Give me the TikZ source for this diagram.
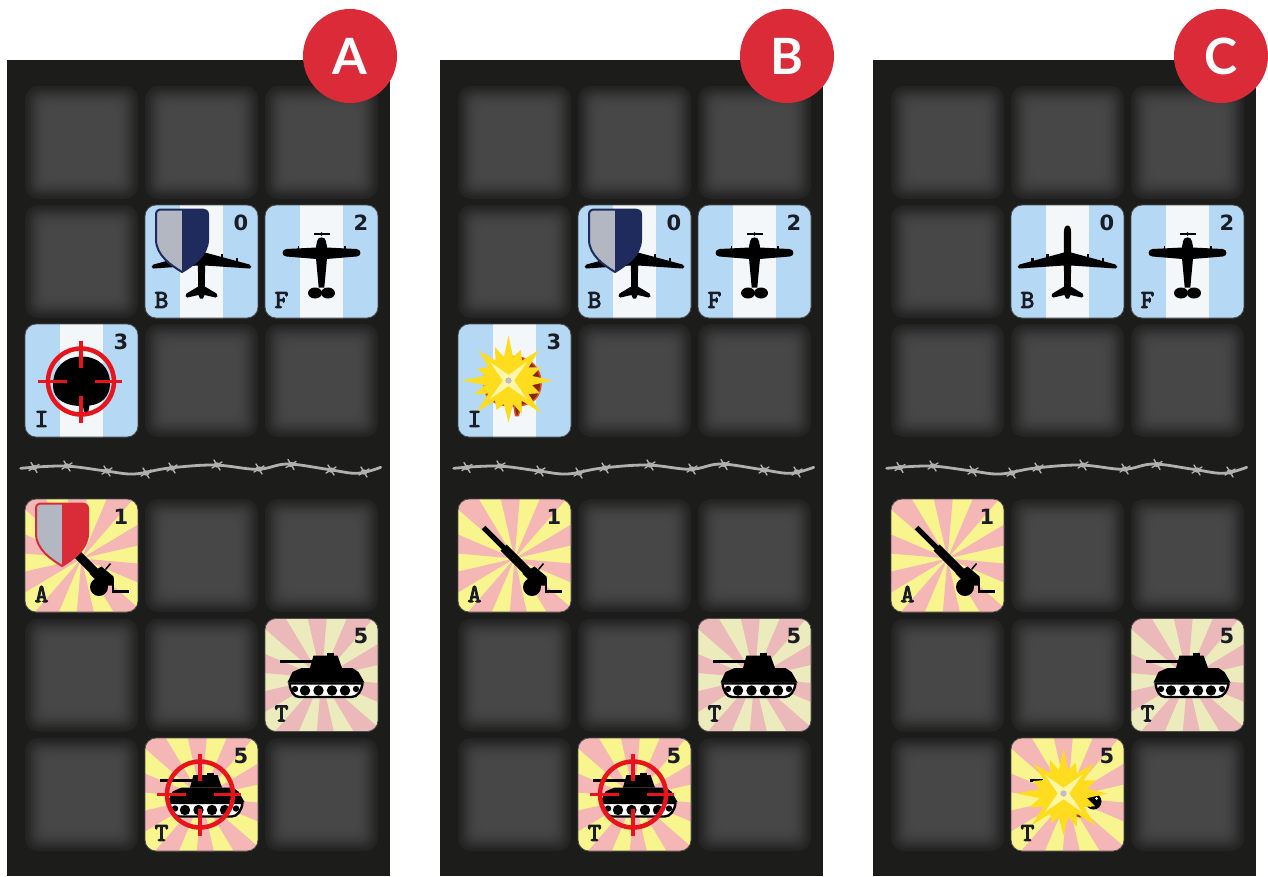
\documentclass[tikz,border=0pt]{standalone}
\usepackage{fontspec}
\setmainfont{Lato}
\newfontfamily\numfont{DejaVu Sans}
\newfontfamily\letfont{lmmono10-regular.otf}[FakeBold=3.5]

\definecolor{boardc}{HTML}{1C1C1B}
\definecolor{skyblue}{HTML}{B5D8F4}
\definecolor{skywhite}{HTML}{F4F7FA}
\definecolor{rayPink}{HTML}{F4B7B6}
\definecolor{rayYellow}{HTML}{F8F48E}
\definecolor{palePink}{HTML}{EBB9B9}
\definecolor{paleCream}{HTML}{EBEBBE}
\definecolor{inkc}{HTML}{1A1C26}
\definecolor{navyc}{HTML}{1F2B5C}
\definecolor{shieldgrey}{HTML}{B2B7C2}
\definecolor{shieldred}{HTML}{DA2C38}
\definecolor{aimred}{HTML}{E8141C}
\definecolor{labelred}{HTML}{DB2B39}
\definecolor{wirec}{HTML}{B0B0B0}
\definecolor{boomY}{HTML}{FFDD1E}
\definecolor{boomPale}{HTML}{FFF6A8}
\definecolor{burnt}{HTML}{8A2411}
\definecolor{burntedge}{HTML}{D8541A}

\tikzset{
  numtxt/.style={inner sep=0pt, text=inkc, font=\numfont\bfseries\fontsize{21}{21}\selectfont},
  lettxt/.style={inner sep=0pt, text=inkc, font=\letfont\fontsize{26}{26}\selectfont},
  labelc/.style={circle, fill=labelred, minimum size=94pt, inner sep=0pt, text=white,
    font=\bfseries\fontsize{50}{50}\selectfont},
  wireline/.style={wirec, line width=2.8pt, line cap=round},
  barb/.style={wirec, line width=1.4pt, line cap=round},
}

% ---------- card backgrounds ----------
\newcommand\cardclip{\clip[rounded corners=11pt] (-56.5,-56.5) rectangle (56.5,56.5);}
\newcommand\bluecard{%
  \begin{scope}\cardclip
    \fill[skyblue] (-57,-57) rectangle (57,57);
    \fill[skywhite] (-21.5,-57) rectangle (21.5,57);
  \end{scope}}
\newcommand\suncard[2]{%
  \begin{scope}\cardclip
    \fill[#2] (-57,-57) rectangle (57,57);
    \foreach \k in {0,...,9}{\fill[#1] (0,3) -- +({\k*36+5}:95) -- +({\k*36+23}:95) -- cycle;}
  \end{scope}}
\newcommand\cardrim{\draw[black!70, line width=0.8pt, rounded corners=11pt] (-56.5,-56.5) rectangle (56.5,56.5);}
\newcommand\cardtext[3]{%
  \node[numtxt] (#1n) at (39.5,-39) {#2};
  \node[lettxt] (#1l) at (-40,38.5) {#3};}

% ---------- icons ----------
\newcommand\jeticon{%
  \fill (0,-36) .. controls (2.5,-36) and (3.6,-33) .. (3.6,-29) -- (3.6,-9) -- (48,3)
    .. controls (50.5,3.8) and (50.5,7) .. (48,7) -- (3.6,4) -- (3.3,25) -- (15,32)
    .. controls (17,33.5) and (16,36.5) .. (14,36) -- (3,33.5) -- (1.5,37) -- (-1.5,37)
    -- (-3,33.5) -- (-14,36) .. controls (-16,36.5) and (-17,33.5) .. (-15,32) -- (-3.3,25)
    -- (-3.6,4) -- (-48,7) .. controls (-50.5,7) and (-50.5,3.8) .. (-48,3) -- (-3.6,-9)
    -- (-3.6,-29) .. controls (-3.6,-33) and (-2.5,-36) .. (0,-36) -- cycle;
  \fill (19,-8) rectangle (21.5,-3); \fill (-21.5,-8) rectangle (-19,-3);
  \fill (34,-4) rectangle (36.5,0.5); \fill (-36.5,-4) rectangle (-34,0.5);}

\newcommand\propicon{%
  \fill (-8,-28.5) rectangle (8,-26.5);
  \fill (0,-27.5) circle (1.8);
  \fill (-4.5,-20) .. controls (-4.5,-25.5) and (4.5,-25.5) .. (4.5,-20) -- (6,-12) -- (5.5,-3)
    -- (2.8,26) -- (-2.8,26) -- (-5.5,-3) -- (-6,-12) -- cycle;
  \fill (-5,-14) -- (-35,-12.5) .. controls (-40,-12.3) and (-40.5,-5.2) .. (-35,-5) -- (-5,-2.5)
    -- (5,-2.5) -- (35,-5) .. controls (40.5,-5.2) and (40,-12.3) .. (35,-12.5) -- (5,-14) -- cycle;
  \fill (-6.5,31.5) ellipse (7 and 5.5);
  \fill (6.5,31.5) ellipse (7 and 5.5);
  \fill (-24,-16) rectangle (-22.5,-12); \fill (22.5,-16) rectangle (24,-12);}

\newcommand\helmetpath[1]{%
  \path[#1] (-28.5,6) .. controls (-29,-14) and (-16,-24) .. (0,-24)
    .. controls (17,-24) and (29,-13) .. (28.5,4) .. controls (28,16) and (20,24) .. (8,25)
    -- (6,35) -- (3,35) -- (1.5,25.5) .. controls (-14,26) and (-28,20) .. (-28.5,6) -- cycle;}

\newcommand\shieldpath[1]{%
  \path[#1] (-45.5,-47) -- (-45.5,-22) .. controls (-45.5,-6) and (-30,4) .. (-19.5,10.5)
    .. controls (-9,4) and (6.5,-6) .. (6.5,-22) -- (6.5,-47) .. controls (6.5,-50.5) and (4,-52) .. (1,-52)
    -- (-40,-52) .. controls (-43.5,-52) and (-45.5,-50.5) .. (-45.5,-47) -- cycle;}
\newcommand\shieldicon[2]{%
  \begin{scope}
    \shieldpath{clip}
    \fill[shieldgrey] (-50,-55) rectangle (-19.5,15);
    \fill[#1] (-19.5,-55) rectangle (10,15);
  \end{scope}
  \shieldpath{draw=#2, line width=2pt, line join=round}}

\newcommand\tankicon{%
  \fill (-41.5,-15.5) rectangle (-9,-12.5);
  \fill (-11.5,-7) -- (-8,-19.5) -- (16,-19.5) -- (20.5,-7) -- cycle;
  \fill (5,-22) rectangle (12,-19);
  \fill (-34,7.5) -- (-29,-3) -- (-20,-7) -- (31,-7) -- (37,-3) -- (43,7.5) -- cycle;
  \filldraw[fill=white, line width=2.4pt, line join=round] (-32,8.5) -- (41,8.5)
    .. controls (40,16) and (36,22) .. (30,22) -- (-22,22) .. controls (-28,22) and (-31,16) .. (-32,8.5) -- cycle;
  \foreach \wx in {-16.5,-3,10.5,23.5}{\fill (\wx,15.5) circle (5.2);}
  \fill (-26.5,14) circle (3.2); \fill (34.5,14) circle (3.2);}

\newcommand\cannonicon{%
  \draw[line width=5pt] (-31,-28) -- (-7,-4);
  \draw[line width=8.5pt] (-11,-8) -- (16,19);
  \fill (8,18) -- (20,11) -- (32,21) -- (32,30) -- (20,30) -- cycle;
  \draw[line width=1.5pt] (24,14) -- (29,8);
  \fill (17.5,31.5) circle (9);
  \draw[line width=2.6pt] (31.5,22) -- (31.5,36) -- (47,36);}

\newcommand\aimicon{%
  \draw[aimred, line width=4.5pt] (0,0) circle (33);
  \draw[aimred, line width=3.5pt] (0,-41) -- (0,-14) (0,14) -- (0,41) (-43,0) -- (-14,0) (14,0) -- (41,0);}

\newcommand\boomicon{%
  \fill[boomY] (0:44) \foreach \a/\r in {22/34,45/46,68/36,90/42,112/32,135/45,158/37,180/47,
      202/33,225/42,248/36,270/45,292/33,315/43,338/35,360/44}{ -- ({\a-11}:24) -- (\a:\r)} -- cycle;
  \fill[boomPale, rotate=45] (0,-26) -- (4,-4) -- (26,0) -- (4,4) -- (0,26) -- (-4,4)
    -- (-26,0) -- (-4,-4) -- cycle;
  \fill[black!25] (0,0) circle (3.2);}

% ---------- an empty cell: rounded square that darkens smoothly towards its rim ----------
\newcommand\cellat[2]{%
  \foreach \d/\g/\r in {0/86/13,1.5/85/12.5,3/84/12,4.5/82.5/11.5,6/81/11,7.5/79.5/10.5,9/78.2/10,
      10.5/77/9.5,12/76/9,13.5/75/8.5,15/74.2/8,17/73.4/7.5,19/72.7/7,22/72/6.5}{
    \fill[black!\g, rounded corners=\r pt] (#1-56.5+\d,#2-56.5+\d) rectangle (#1+56.5-\d,#2+56.5-\d);}}

% ---------- one board with its empty cells and the wire ----------
\newcommand\boardat[1]{%
  \begin{scope}[shift={(#1,0)}]
    \fill[boardc] (7,60) rectangle (390,876);
    \foreach \cx in {81.5,201.5,321.5}{\foreach \cy in {142.5,261.5,380.5,555.5,675,794.5}{
      \cellat{\cx}{\cy}}}
    \draw[wireline] plot[smooth, tension=0.6] coordinates {(20.7,468.3) (64,466) (104,470.7) (134,474)
      (167.3,468.3) (214,465) (257.3,469.3) (287.3,464) (327.3,469.3) (357.3,473.3) (380.7,467.3)};
    \foreach \bx/\by in {34/467.5,67/466,107/471,146/473,172/468,217/465,259/469,291/464.5,331/470,364/472}{
      \draw[barb] (\bx-3,\by-5) -- (\bx+3,\by+5) (\bx-5,\by+3) -- (\bx+5,\by-3);
      \fill[wirec] (\bx,\by) ellipse (3.5 and 2.6);}
  \end{scope}}

\begin{document}
\begin{tikzpicture}[x=1pt,y=-1pt]
\useasboundingbox (0,0) rectangle (1268,876);
\fill[white] (0,0) rectangle (1268,876);

\boardat{0}
\boardat{433}
\boardat{866}

% ===== board A =====
\begin{scope}[shift={(201.5,261.5)}]
  \bluecard \jeticon \shieldicon{navyc}{navyc} \cardtext{aB}{0}{B} \cardrim
\end{scope}
\begin{scope}[shift={(321.5,261.5)}]
  \bluecard \propicon \cardtext{aF}{2}{F} \cardrim
\end{scope}
\begin{scope}[shift={(81.5,380.5)}]
  \bluecard \helmetpath{fill=black}
  \begin{scope}[shift={(-0.5,1)}]\aimicon\end{scope}
  \cardtext{aI}{3}{I} \cardrim
\end{scope}
\begin{scope}[shift={(81.5,555.5)}]
  \suncard{rayPink}{rayYellow} \cannonicon \shieldicon{shieldred}{shieldred} \cardtext{aA}{1}{A} \cardrim
\end{scope}
\begin{scope}[shift={(321.5,675)}]
  \suncard{palePink}{paleCream} \tankicon \cardtext{aT}{5}{T} \cardrim
\end{scope}
\begin{scope}[shift={(201.5,794.5)}]
  \suncard{rayPink}{rayYellow} \tankicon
  \begin{scope}[shift={(-1.5,0)}]\aimicon\end{scope}
  \cardtext{aX}{5}{T} \cardrim
\end{scope}
\node[labelc] (labA) at (350,56) {A};

% ===== board B =====
\begin{scope}[shift={(634.5,261.5)}]
  \bluecard \jeticon \shieldicon{navyc}{navyc} \cardtext{bB}{0}{B} \cardrim
\end{scope}
\begin{scope}[shift={(754.5,261.5)}]
  \bluecard \propicon \cardtext{bF}{2}{F} \cardrim
\end{scope}
\begin{scope}[shift={(514.5,380.5)}]
  \bluecard
  \begin{scope}[shift={(-2,0)}]\helmetpath{fill=burnt, draw=burntedge, line width=1.5pt}\end{scope}
  \begin{scope}[shift={(-6,0)}]\boomicon\end{scope}
  \cardtext{bI}{3}{I} \cardrim
\end{scope}
\begin{scope}[shift={(514.5,555.5)}]
  \suncard{rayPink}{rayYellow} \cannonicon \cardtext{bA}{1}{A} \cardrim
\end{scope}
\begin{scope}[shift={(754.5,675)}]
  \suncard{palePink}{paleCream} \tankicon \cardtext{bT}{5}{T} \cardrim
\end{scope}
\begin{scope}[shift={(634.5,794.5)}]
  \suncard{rayPink}{rayYellow} \tankicon
  \begin{scope}[shift={(-1.5,0)}]\aimicon\end{scope}
  \cardtext{bX}{5}{T} \cardrim
\end{scope}
\node[labelc] (labB) at (787,56) {B};

% ===== board C =====
\begin{scope}[shift={(1067.5,261.5)}]
  \bluecard \jeticon \cardtext{cB}{0}{B} \cardrim
\end{scope}
\begin{scope}[shift={(1187.5,261.5)}]
  \bluecard \propicon \cardtext{cF}{2}{F} \cardrim
\end{scope}
\begin{scope}[shift={(947.5,555.5)}]
  \suncard{rayPink}{rayYellow} \cannonicon \cardtext{cA}{1}{A} \cardrim
\end{scope}
\begin{scope}[shift={(1187.5,675)}]
  \suncard{palePink}{paleCream} \tankicon \cardtext{cT}{5}{T} \cardrim
\end{scope}
\begin{scope}[shift={(1067.5,794.5)}]
  \suncard{rayPink}{rayYellow}
  % wreckage left behind by the hit
  \fill (-38,-15.5) rectangle (-25,-12.5);
  \fill (26,7) circle (8);
  \fill[white] (23,11) circle (1.6); \fill[white] (29,4) circle (1.5);
  \fill[shieldred] (-14,-21) -- (-6,-25) -- (-8,-18) -- cycle;
  \fill[burntedge] (0,22) -- (18,14) -- (15,23) -- cycle;
  \fill[burnt] (6,24) circle (2); \fill[burnt] (12,21) circle (1.8);
  \begin{scope}[shift={(-4,-1)}]\boomicon\end{scope}
  \cardtext{cX}{5}{T} \cardrim
\end{scope}
\node[labelc] (labC) at (1221,56) {C};
\end{tikzpicture}
\end{document}
